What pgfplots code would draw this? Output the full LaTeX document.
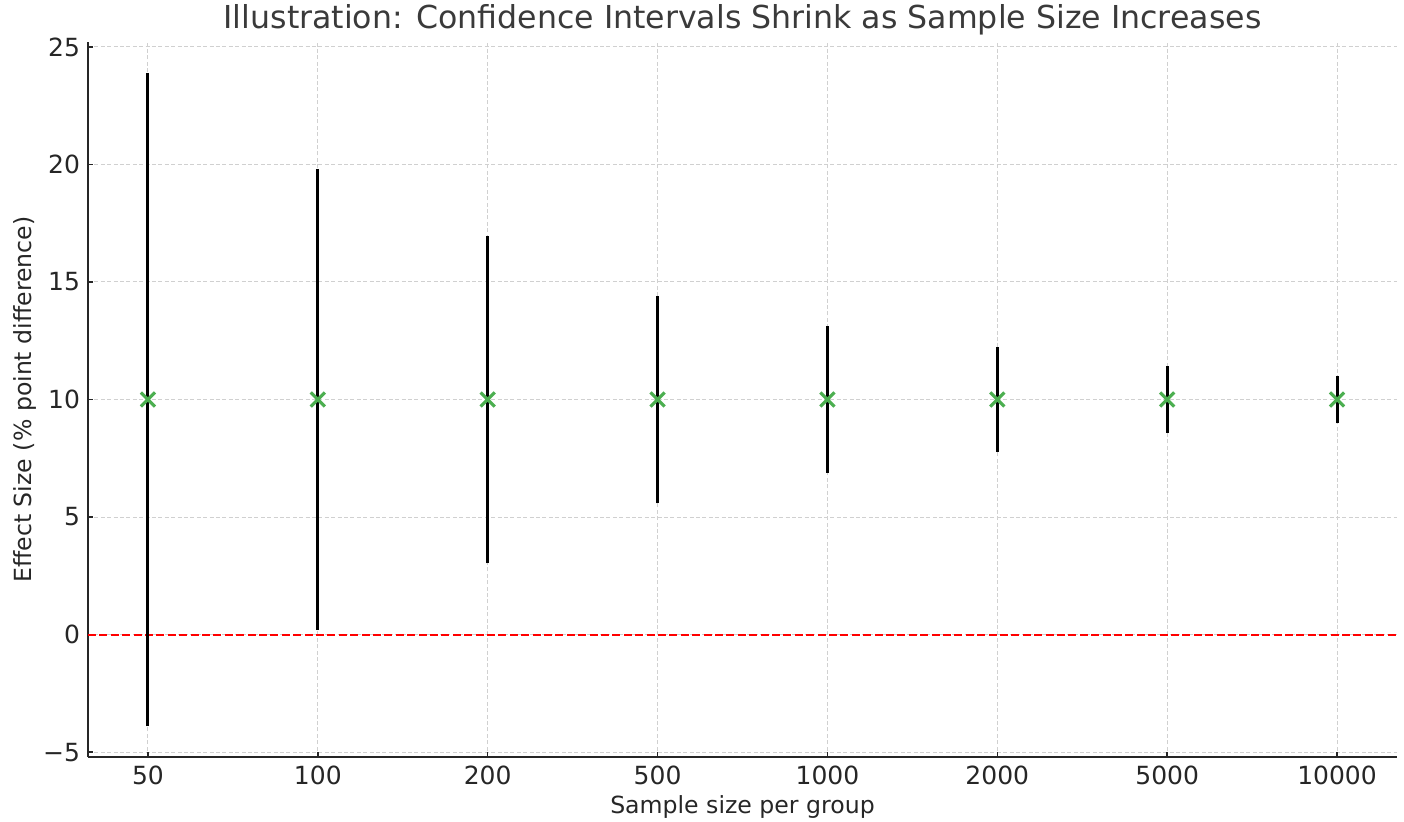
\documentclass[border=0pt]{standalone}
\usepackage{fontspec}
\setmainfont{DejaVu Sans}
\usepackage{pgfplots}
\pgfplotsset{compat=1.18}
\definecolor{txt}{HTML}{262626}
\definecolor{ttl}{HTML}{3A3A3A}
\definecolor{gridc}{HTML}{D0D0D0}
\definecolor{mk}{HTML}{4CAF50}
\begin{document}
\begin{tikzpicture}
\begin{axis}[
  name=ax,
  at={(0,0)}, anchor=south west,
  scale only axis,
  width=654.5pt, height=357.5pt,
  xmin=-0.353, xmax=7.353,
  ymin=-5.21, ymax=25.21,
  axis x line*=bottom, axis y line*=left,
  axis line style={-, line width=1.1pt, color=txt},
  xtick={0,1,2,3,4,5,6,7},
  xticklabels={50,100,200,500,1000,2000,5000,10000},
  ytick={-5,0,5,10,15,20,25},
  yticklabels={−5,0,5,10,15,20,25},
  tick align=inside,
  major tick length=2.5pt,
  tick style={line width=0.7pt, color=txt},
  grid=major,
  grid style={gridc, line width=0.5pt, dash pattern=on 2pt off 1.2pt},
  ticklabel style={font=\fontsize{12.5}{15}\selectfont, color=txt},
  xticklabel style={yshift=-1pt},
  yticklabel style={xshift=-0.5pt},
  label style={font=\fontsize{11.8}{14}\selectfont, color=txt},
  xlabel={Sample size per group},
  ylabel={Effect Size (\% point difference)},
  xlabel style={at={(axis description cs:0.5,0)}, anchor=base, yshift=-28pt},
  ylabel style={at={(axis description cs:0,0.5)}, anchor=base, rotate=0, yshift=28pt},
  title={Illustration: Confidence Intervals Shrink as Sample Size Increases},
  title style={at={(axis description cs:0.5,1)}, anchor=base, yshift=0.5pt, font=\fontsize{15.8}{19}\selectfont, color=ttl},
  clip=false,
  unbounded coords=jump,
]
\addplot[red, line width=1pt, dash pattern=on 4pt off 1.7pt, forget plot] coordinates {(-0.353,0) (7.353,0)};
\addplot[black, line width=1.5pt, mark=none] table[x=x, y=y] {
x y
0 -3.9
0 23.9
nan nan
1 0.2
1 19.8
nan nan
2 3.03
2 16.97
nan nan
3 5.58
3 14.42
nan nan
4 6.88
4 13.12
nan nan
5 7.78
5 12.22
nan nan
6 8.59
6 11.41
nan nan
7 8.98
7 11.02
};
\addplot[only marks, mark=x, mark size=5pt, mk, line width=1.6pt]
  coordinates {(0,10) (1,10) (2,10) (3,10) (4,10) (5,10) (6,10) (7,10)};
\end{axis}
\pgfresetboundingbox
\path[use as bounding box] (-44pt,-32pt) rectangle (658pt,378.5pt);
\end{tikzpicture}
\end{document}
